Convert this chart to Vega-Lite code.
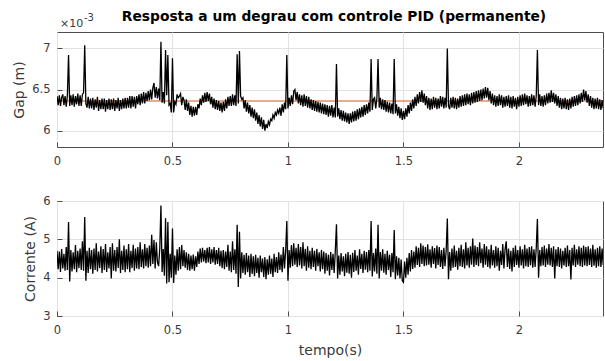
{
"$schema": "https://vega.github.io/schema/vega-lite/v6.json",
"padding": {"left": 12, "top": 9, "right": 0, "bottom": 2},
"bounds": "flush",
"spacing": 54,
"config": {
  "font": "DejaVu Sans",
  "view": {"stroke": "#4d4d4d", "strokeWidth": 1},
  "axis": {"grid": true, "gridColor": "#e2e2e2", "gridWidth": 1, "domain": false, "ticks": true, "tickSize": -5, "tickColor": "#4d4d4d", "labelFlush": false, "labelFontSize": 11.5, "labelColor": "#3a3a3a", "titleFontSize": 14, "titleFontWeight": "normal", "titleColor": "#3a3a3a"},
  "axisY": {"labelPadding": 12, "titlePadding": 5},
  "axisX": {"labelPadding": 13, "titlePadding": 8}
},
"datasets": {
"ref": [{"r": 6.36}],
"lbl": [{"a": "×10", "b": "-3"}],
"sig": [
{"t":0.000,"g":6.42,"c":4.70},{"t":0.005,"g":6.31,"c":4.22},{"t":0.010,"g":6.43,"c":4.68},{"t":0.015,"g":6.30,"c":4.15},{"t":0.020,"g":6.40,"c":4.75},{"t":0.025,"g":6.44,"c":4.24},{"t":0.030,"g":6.31,"c":4.62},{"t":0.035,"g":6.42,"c":4.18},{"t":0.040,"g":6.29,"c":4.80},{"t":0.045,"g":6.43,"c":4.20},
{"t":0.050,"g":6.92,"c":5.45},{"t":0.055,"g":6.30,"c":3.90},{"t":0.060,"g":6.43,"c":4.72},{"t":0.065,"g":6.31,"c":4.16},{"t":0.070,"g":6.44,"c":4.66},{"t":0.075,"g":6.29,"c":4.22},{"t":0.080,"g":6.42,"c":4.85},{"t":0.085,"g":6.32,"c":4.14},{"t":0.090,"g":6.45,"c":4.70},{"t":0.095,"g":6.30,"c":4.25},
{"t":0.100,"g":6.43,"c":4.76},{"t":0.105,"g":6.30,"c":4.20},{"t":0.110,"g":6.44,"c":4.95},{"t":0.115,"g":6.46,"c":4.18},{"t":0.120,"g":7.04,"c":5.58},{"t":0.125,"g":6.33,"c":3.92},{"t":0.130,"g":6.28,"c":4.70},{"t":0.135,"g":6.41,"c":4.12},{"t":0.140,"g":6.27,"c":4.78},{"t":0.145,"g":6.39,"c":4.22},
{"t":0.150,"g":6.27,"c":4.72},{"t":0.155,"g":6.40,"c":4.10},{"t":0.160,"g":6.25,"c":4.76},{"t":0.165,"g":6.38,"c":4.20},{"t":0.170,"g":6.28,"c":4.90},{"t":0.175,"g":6.41,"c":4.16},{"t":0.180,"g":6.24,"c":4.68},{"t":0.185,"g":6.37,"c":4.25},{"t":0.190,"g":6.26,"c":4.82},{"t":0.195,"g":6.39,"c":4.12},
{"t":0.200,"g":6.26,"c":4.75},{"t":0.205,"g":6.39,"c":4.20},{"t":0.210,"g":6.23,"c":4.88},{"t":0.215,"g":6.37,"c":4.15},{"t":0.220,"g":6.26,"c":4.66},{"t":0.225,"g":6.39,"c":4.24},{"t":0.230,"g":6.25,"c":4.80},{"t":0.235,"g":6.38,"c":3.98},{"t":0.240,"g":6.26,"c":4.90},{"t":0.245,"g":6.39,"c":4.18},
{"t":0.250,"g":6.24,"c":4.72},{"t":0.255,"g":6.37,"c":4.16},{"t":0.260,"g":6.27,"c":4.80},{"t":0.265,"g":6.40,"c":4.25},{"t":0.270,"g":6.24,"c":5.00},{"t":0.275,"g":6.37,"c":4.12},{"t":0.280,"g":6.26,"c":4.70},{"t":0.285,"g":6.39,"c":4.20},{"t":0.290,"g":6.27,"c":4.84},{"t":0.295,"g":6.40,"c":4.14},
{"t":0.300,"g":6.27,"c":4.74},{"t":0.305,"g":6.40,"c":4.22},{"t":0.310,"g":6.28,"c":4.88},{"t":0.315,"g":6.42,"c":4.14},{"t":0.320,"g":6.27,"c":4.70},{"t":0.325,"g":6.42,"c":4.25},{"t":0.330,"g":6.29,"c":4.86},{"t":0.335,"g":6.41,"c":4.18},{"t":0.340,"g":6.27,"c":4.76},{"t":0.345,"g":6.42,"c":4.24},
{"t":0.350,"g":6.32,"c":4.80},{"t":0.355,"g":6.44,"c":4.22},{"t":0.360,"g":6.31,"c":4.92},{"t":0.365,"g":6.45,"c":4.28},{"t":0.370,"g":6.33,"c":4.74},{"t":0.375,"g":6.47,"c":4.24},{"t":0.380,"g":6.33,"c":4.88},{"t":0.385,"g":6.46,"c":4.30},{"t":0.390,"g":6.36,"c":4.78},{"t":0.395,"g":6.48,"c":4.26},
{"t":0.400,"g":6.37,"c":4.84},{"t":0.405,"g":6.50,"c":4.30},{"t":0.410,"g":6.38,"c":5.12},{"t":0.415,"g":6.52,"c":4.36},{"t":0.420,"g":6.58,"c":4.98},{"t":0.425,"g":6.40,"c":4.24},{"t":0.430,"g":6.53,"c":4.92},{"t":0.435,"g":6.39,"c":4.40},{"t":0.440,"g":6.51,"c":4.30},{"t":0.445,"g":6.37,"c":4.76},
{"t":0.450,"g":7.08,"c":5.88},{"t":0.455,"g":6.34,"c":4.15},{"t":0.460,"g":6.47,"c":4.75},{"t":0.465,"g":6.33,"c":4.05},{"t":0.470,"g":6.98,"c":5.55},{"t":0.475,"g":6.43,"c":3.85},{"t":0.480,"g":6.92,"c":5.45},{"t":0.485,"g":6.31,"c":3.88},{"t":0.490,"g":6.33,"c":4.62},{"t":0.495,"g":6.22,"c":4.00},
{"t":0.500,"g":6.88,"c":5.28},{"t":0.505,"g":6.22,"c":3.86},{"t":0.510,"g":6.35,"c":4.58},{"t":0.515,"g":6.32,"c":4.08},{"t":0.520,"g":6.44,"c":4.74},{"t":0.525,"g":6.40,"c":4.18},{"t":0.530,"g":6.42,"c":4.80},{"t":0.535,"g":6.45,"c":4.22},{"t":0.540,"g":6.31,"c":4.85},{"t":0.545,"g":6.41,"c":4.30},
{"t":0.550,"g":6.37,"c":4.72},{"t":0.555,"g":6.25,"c":4.26},{"t":0.560,"g":6.38,"c":4.66},{"t":0.565,"g":6.24,"c":4.20},{"t":0.570,"g":6.34,"c":4.62},{"t":0.575,"g":6.19,"c":4.18},{"t":0.580,"g":6.30,"c":4.58},{"t":0.585,"g":6.17,"c":4.22},{"t":0.590,"g":6.29,"c":4.60},{"t":0.595,"g":6.18,"c":4.18},
{"t":0.600,"g":6.29,"c":4.56},{"t":0.605,"g":6.19,"c":4.28},{"t":0.610,"g":6.32,"c":4.68},{"t":0.615,"g":6.27,"c":4.36},{"t":0.620,"g":6.39,"c":4.76},{"t":0.625,"g":6.31,"c":4.40},{"t":0.630,"g":6.43,"c":4.78},{"t":0.635,"g":6.34,"c":4.42},{"t":0.640,"g":6.46,"c":4.72},{"t":0.645,"g":6.35,"c":4.38},
{"t":0.650,"g":6.47,"c":4.78},{"t":0.655,"g":6.36,"c":4.40},{"t":0.660,"g":6.45,"c":4.80},{"t":0.665,"g":6.32,"c":4.36},{"t":0.670,"g":6.41,"c":4.74},{"t":0.675,"g":6.28,"c":4.40},{"t":0.680,"g":6.39,"c":4.80},{"t":0.685,"g":6.26,"c":4.34},{"t":0.690,"g":6.37,"c":4.72},{"t":0.695,"g":6.25,"c":4.36},
{"t":0.700,"g":6.36,"c":4.78},{"t":0.705,"g":6.24,"c":4.30},{"t":0.710,"g":6.34,"c":4.70},{"t":0.715,"g":6.22,"c":4.25},{"t":0.720,"g":6.35,"c":4.72},{"t":0.725,"g":6.24,"c":4.22},{"t":0.730,"g":6.38,"c":4.68},{"t":0.735,"g":6.27,"c":4.28},{"t":0.740,"g":6.41,"c":4.86},{"t":0.745,"g":6.30,"c":4.18},
{"t":0.750,"g":6.42,"c":4.68},{"t":0.755,"g":6.30,"c":4.14},{"t":0.760,"g":6.44,"c":4.95},{"t":0.765,"g":6.31,"c":4.20},{"t":0.770,"g":6.43,"c":4.74},{"t":0.775,"g":6.30,"c":4.10},{"t":0.780,"g":6.93,"c":5.38},{"t":0.785,"g":6.33,"c":3.76},{"t":0.790,"g":6.97,"c":5.20},{"t":0.795,"g":6.42,"c":3.98},
{"t":0.800,"g":6.38,"c":4.66},{"t":0.805,"g":6.40,"c":4.12},{"t":0.810,"g":6.27,"c":4.60},{"t":0.815,"g":6.37,"c":4.08},{"t":0.820,"g":6.23,"c":4.64},{"t":0.825,"g":6.34,"c":4.14},{"t":0.830,"g":6.21,"c":4.58},{"t":0.835,"g":6.31,"c":4.02},{"t":0.840,"g":6.17,"c":4.62},{"t":0.845,"g":6.28,"c":4.10},
{"t":0.850,"g":6.15,"c":4.56},{"t":0.855,"g":6.26,"c":4.04},{"t":0.860,"g":6.12,"c":4.60},{"t":0.865,"g":6.22,"c":4.12},{"t":0.870,"g":6.08,"c":4.52},{"t":0.875,"g":6.19,"c":4.00},{"t":0.880,"g":6.05,"c":4.58},{"t":0.885,"g":6.16,"c":4.14},{"t":0.890,"g":6.02,"c":4.50},{"t":0.895,"g":6.13,"c":4.02},
{"t":0.900,"g":6.00,"c":4.54},{"t":0.905,"g":6.08,"c":3.96},{"t":0.910,"g":6.03,"c":4.48},{"t":0.915,"g":6.11,"c":4.08},{"t":0.920,"g":6.07,"c":4.58},{"t":0.925,"g":6.14,"c":4.10},{"t":0.930,"g":6.12,"c":4.50},{"t":0.935,"g":6.19,"c":4.02},{"t":0.940,"g":6.15,"c":4.62},{"t":0.945,"g":6.22,"c":4.14},
{"t":0.950,"g":6.19,"c":4.54},{"t":0.955,"g":6.25,"c":4.12},{"t":0.960,"g":6.21,"c":4.66},{"t":0.965,"g":6.28,"c":4.20},{"t":0.970,"g":6.18,"c":4.60},{"t":0.975,"g":6.32,"c":4.14},{"t":0.980,"g":6.22,"c":4.80},{"t":0.985,"g":6.34,"c":4.24},{"t":0.990,"g":6.26,"c":4.70},{"t":0.995,"g":6.92,"c":5.48},
{"t":1.000,"g":6.27,"c":3.92},{"t":1.005,"g":6.40,"c":4.72},{"t":1.010,"g":6.30,"c":4.26},{"t":1.015,"g":6.43,"c":4.85},{"t":1.020,"g":6.32,"c":4.30},{"t":1.025,"g":6.48,"c":4.90},{"t":1.030,"g":6.50,"c":4.34},{"t":1.035,"g":6.37,"c":4.78},{"t":1.040,"g":6.47,"c":4.28},{"t":1.045,"g":6.33,"c":4.88},
{"t":1.050,"g":6.44,"c":4.32},{"t":1.055,"g":6.31,"c":4.80},{"t":1.060,"g":6.43,"c":4.24},{"t":1.065,"g":6.29,"c":4.92},{"t":1.070,"g":6.44,"c":4.30},{"t":1.075,"g":6.30,"c":4.75},{"t":1.080,"g":6.42,"c":4.18},{"t":1.085,"g":6.28,"c":4.82},{"t":1.090,"g":6.41,"c":4.26},{"t":1.095,"g":6.27,"c":4.70},
{"t":1.100,"g":6.38,"c":4.22},{"t":1.105,"g":6.25,"c":4.78},{"t":1.110,"g":6.37,"c":4.28},{"t":1.115,"g":6.24,"c":4.70},{"t":1.120,"g":6.36,"c":4.18},{"t":1.125,"g":6.23,"c":4.75},{"t":1.130,"g":6.35,"c":4.30},{"t":1.135,"g":6.22,"c":4.66},{"t":1.140,"g":6.34,"c":4.16},{"t":1.145,"g":6.21,"c":4.72},
{"t":1.150,"g":6.33,"c":4.22},{"t":1.155,"g":6.20,"c":4.68},{"t":1.160,"g":6.32,"c":4.10},{"t":1.165,"g":6.19,"c":4.64},{"t":1.170,"g":6.31,"c":4.18},{"t":1.175,"g":6.17,"c":4.60},{"t":1.180,"g":6.30,"c":4.06},{"t":1.185,"g":6.18,"c":4.67},{"t":1.190,"g":6.31,"c":4.20},{"t":1.195,"g":6.16,"c":4.62},
{"t":1.200,"g":6.28,"c":4.12},{"t":1.205,"g":6.16,"c":4.70},{"t":1.210,"g":6.81,"c":5.39},{"t":1.215,"g":6.17,"c":3.98},{"t":1.220,"g":6.27,"c":4.58},{"t":1.225,"g":6.14,"c":4.08},{"t":1.230,"g":6.25,"c":4.64},{"t":1.235,"g":6.12,"c":4.16},{"t":1.240,"g":6.24,"c":4.56},{"t":1.245,"g":6.11,"c":4.04},
{"t":1.250,"g":6.22,"c":4.62},{"t":1.255,"g":6.10,"c":4.13},{"t":1.260,"g":6.21,"c":4.67},{"t":1.265,"g":6.08,"c":4.10},{"t":1.270,"g":6.21,"c":4.60},{"t":1.275,"g":6.10,"c":4.00},{"t":1.280,"g":6.23,"c":4.65},{"t":1.285,"g":6.11,"c":4.15},{"t":1.290,"g":6.24,"c":4.72},{"t":1.295,"g":6.12,"c":4.18},
{"t":1.300,"g":6.26,"c":4.58},{"t":1.305,"g":6.14,"c":4.08},{"t":1.310,"g":6.27,"c":4.74},{"t":1.315,"g":6.16,"c":4.23},{"t":1.320,"g":6.29,"c":4.62},{"t":1.325,"g":6.17,"c":4.12},{"t":1.330,"g":6.31,"c":4.70},{"t":1.335,"g":6.19,"c":4.21},{"t":1.340,"g":6.32,"c":4.67},{"t":1.345,"g":6.21,"c":4.14},
{"t":1.350,"g":6.34,"c":4.72},{"t":1.355,"g":6.23,"c":4.18},{"t":1.360,"g":6.87,"c":5.48},{"t":1.365,"g":6.25,"c":4.03},{"t":1.370,"g":6.38,"c":4.64},{"t":1.375,"g":6.40,"c":4.16},{"t":1.380,"g":6.27,"c":4.76},{"t":1.385,"g":6.39,"c":4.10},{"t":1.390,"g":6.87,"c":5.38},{"t":1.395,"g":6.28,"c":3.98},
{"t":1.400,"g":6.40,"c":4.67},{"t":1.405,"g":6.26,"c":4.18},{"t":1.410,"g":6.38,"c":4.74},{"t":1.415,"g":6.25,"c":4.13},{"t":1.420,"g":6.37,"c":4.62},{"t":1.425,"g":6.23,"c":4.08},{"t":1.430,"g":6.35,"c":4.70},{"t":1.435,"g":6.22,"c":4.20},{"t":1.440,"g":6.34,"c":4.60},{"t":1.445,"g":6.21,"c":4.02},
{"t":1.450,"g":6.33,"c":4.64},{"t":1.455,"g":6.20,"c":4.14},{"t":1.460,"g":6.87,"c":5.24},{"t":1.465,"g":6.21,"c":3.96},{"t":1.470,"g":6.32,"c":4.56},{"t":1.475,"g":6.18,"c":4.06},{"t":1.480,"g":6.29,"c":4.52},{"t":1.485,"g":6.15,"c":3.98},{"t":1.490,"g":6.27,"c":4.47},{"t":1.495,"g":6.13,"c":3.92},
{"t":1.500,"g":6.24,"c":3.88},{"t":1.505,"g":6.14,"c":4.42},{"t":1.510,"g":6.27,"c":4.00},{"t":1.515,"g":6.17,"c":4.52},{"t":1.520,"g":6.31,"c":4.08},{"t":1.525,"g":6.21,"c":4.64},{"t":1.530,"g":6.34,"c":4.16},{"t":1.535,"g":6.24,"c":4.72},{"t":1.540,"g":6.38,"c":4.23},{"t":1.545,"g":6.27,"c":4.68},
{"t":1.550,"g":6.41,"c":4.26},{"t":1.555,"g":6.30,"c":4.82},{"t":1.560,"g":6.44,"c":4.33},{"t":1.565,"g":6.33,"c":4.78},{"t":1.570,"g":6.47,"c":4.28},{"t":1.575,"g":6.35,"c":4.90},{"t":1.580,"g":6.49,"c":4.36},{"t":1.585,"g":6.34,"c":4.84},{"t":1.590,"g":6.45,"c":4.30},{"t":1.595,"g":6.31,"c":4.80},
{"t":1.600,"g":6.42,"c":4.32},{"t":1.605,"g":6.27,"c":4.87},{"t":1.610,"g":6.40,"c":4.34},{"t":1.615,"g":6.25,"c":4.74},{"t":1.620,"g":6.39,"c":4.26},{"t":1.625,"g":6.26,"c":4.82},{"t":1.630,"g":6.41,"c":4.36},{"t":1.635,"g":6.28,"c":4.77},{"t":1.640,"g":6.40,"c":4.24},{"t":1.645,"g":6.26,"c":4.84},
{"t":1.650,"g":6.39,"c":4.33},{"t":1.655,"g":6.27,"c":4.80},{"t":1.660,"g":6.42,"c":4.28},{"t":1.665,"g":6.29,"c":4.72},{"t":1.670,"g":6.41,"c":4.23},{"t":1.675,"g":6.27,"c":4.78},{"t":1.680,"g":6.40,"c":4.30},{"t":1.685,"g":6.28,"c":4.70},{"t":1.690,"g":7.00,"c":5.54},{"t":1.695,"g":6.30,"c":3.96},
{"t":1.700,"g":6.26,"c":4.67},{"t":1.705,"g":6.40,"c":4.18},{"t":1.710,"g":6.28,"c":4.76},{"t":1.715,"g":6.41,"c":4.26},{"t":1.720,"g":6.27,"c":4.84},{"t":1.725,"g":6.40,"c":4.28},{"t":1.730,"g":6.26,"c":4.70},{"t":1.735,"g":6.39,"c":4.21},{"t":1.740,"g":6.28,"c":4.78},{"t":1.745,"g":6.42,"c":4.30},
{"t":1.750,"g":6.29,"c":4.86},{"t":1.755,"g":6.43,"c":4.28},{"t":1.760,"g":6.30,"c":4.74},{"t":1.765,"g":6.44,"c":4.24},{"t":1.770,"g":6.31,"c":4.92},{"t":1.775,"g":6.45,"c":4.32},{"t":1.780,"g":6.32,"c":4.78},{"t":1.785,"g":6.44,"c":4.26},{"t":1.790,"g":6.31,"c":4.82},{"t":1.795,"g":6.46,"c":4.34},
{"t":1.800,"g":6.33,"c":5.02},{"t":1.805,"g":6.47,"c":4.28},{"t":1.810,"g":6.34,"c":4.84},{"t":1.815,"g":6.48,"c":4.33},{"t":1.820,"g":6.35,"c":4.80},{"t":1.825,"g":6.49,"c":4.30},{"t":1.830,"g":6.36,"c":4.92},{"t":1.835,"g":6.50,"c":4.38},{"t":1.840,"g":6.37,"c":4.76},{"t":1.845,"g":6.51,"c":4.26},
{"t":1.850,"g":6.39,"c":4.88},{"t":1.855,"g":6.53,"c":4.34},{"t":1.860,"g":6.40,"c":4.82},{"t":1.865,"g":6.52,"c":4.28},{"t":1.870,"g":6.37,"c":4.74},{"t":1.875,"g":6.48,"c":4.24},{"t":1.880,"g":6.33,"c":4.86},{"t":1.885,"g":6.45,"c":4.32},{"t":1.890,"g":6.31,"c":4.72},{"t":1.895,"g":6.43,"c":4.26},
{"t":1.900,"g":6.29,"c":4.82},{"t":1.905,"g":6.42,"c":4.30},{"t":1.910,"g":6.30,"c":4.78},{"t":1.915,"g":6.44,"c":4.18},{"t":1.920,"g":6.31,"c":4.70},{"t":1.925,"g":6.43,"c":4.33},{"t":1.930,"g":6.28,"c":4.88},{"t":1.935,"g":6.41,"c":4.24},{"t":1.940,"g":6.29,"c":4.74},{"t":1.945,"g":6.42,"c":4.95},
{"t":1.950,"g":6.30,"c":4.28},{"t":1.955,"g":6.43,"c":4.76},{"t":1.960,"g":6.28,"c":4.23},{"t":1.965,"g":6.41,"c":4.70},{"t":1.970,"g":6.27,"c":4.16},{"t":1.975,"g":6.42,"c":4.78},{"t":1.980,"g":6.29,"c":4.28},{"t":1.985,"g":6.40,"c":4.84},{"t":1.990,"g":6.26,"c":4.33},{"t":1.995,"g":6.41,"c":4.72},
{"t":2.000,"g":6.29,"c":4.26},{"t":2.005,"g":6.43,"c":4.82},{"t":2.010,"g":6.30,"c":4.32},{"t":2.015,"g":6.44,"c":4.74},{"t":2.020,"g":6.31,"c":4.24},{"t":2.025,"g":6.45,"c":4.86},{"t":2.030,"g":6.32,"c":4.30},{"t":2.035,"g":6.43,"c":4.76},{"t":2.040,"g":6.29,"c":4.28},{"t":2.045,"g":6.42,"c":4.80},
{"t":2.050,"g":6.30,"c":4.32},{"t":2.055,"g":6.44,"c":4.82},{"t":2.060,"g":6.31,"c":4.26},{"t":2.065,"g":6.43,"c":4.74},{"t":2.070,"g":6.29,"c":4.28},{"t":2.075,"g":6.42,"c":4.78},{"t":2.080,"g":6.98,"c":5.53},{"t":2.085,"g":6.31,"c":4.00},{"t":2.090,"g":6.44,"c":4.72},{"t":2.095,"g":6.30,"c":4.30},
{"t":2.100,"g":6.42,"c":4.80},{"t":2.105,"g":6.29,"c":4.32},{"t":2.110,"g":6.43,"c":4.84},{"t":2.115,"g":6.31,"c":4.28},{"t":2.120,"g":6.45,"c":4.76},{"t":2.125,"g":6.33,"c":4.34},{"t":2.130,"g":6.46,"c":4.88},{"t":2.135,"g":6.34,"c":4.32},{"t":2.140,"g":6.49,"c":4.78},{"t":2.145,"g":6.35,"c":4.28},
{"t":2.150,"g":6.46,"c":4.82},{"t":2.155,"g":6.33,"c":3.98},{"t":2.160,"g":6.44,"c":4.74},{"t":2.165,"g":6.30,"c":4.30},{"t":2.170,"g":6.42,"c":4.80},{"t":2.175,"g":6.28,"c":4.28},{"t":2.180,"g":6.40,"c":4.76},{"t":2.185,"g":6.26,"c":4.24},{"t":2.190,"g":6.39,"c":4.70},{"t":2.195,"g":6.27,"c":4.32},
{"t":2.200,"g":6.40,"c":4.78},{"t":2.205,"g":6.26,"c":4.28},{"t":2.210,"g":6.38,"c":4.84},{"t":2.215,"g":6.25,"c":4.30},{"t":2.220,"g":6.39,"c":4.72},{"t":2.225,"g":6.27,"c":3.95},{"t":2.230,"g":6.41,"c":4.78},{"t":2.235,"g":6.29,"c":4.32},{"t":2.240,"g":6.42,"c":4.86},{"t":2.245,"g":6.30,"c":4.28},
{"t":2.250,"g":6.43,"c":4.74},{"t":2.255,"g":6.31,"c":4.34},{"t":2.260,"g":6.44,"c":4.82},{"t":2.265,"g":6.33,"c":4.30},{"t":2.270,"g":6.46,"c":4.78},{"t":2.275,"g":6.35,"c":4.28},{"t":2.280,"g":6.50,"c":4.84},{"t":2.285,"g":6.37,"c":4.32},{"t":2.290,"g":6.48,"c":4.80},{"t":2.295,"g":6.34,"c":4.30},
{"t":2.300,"g":6.44,"c":4.82},{"t":2.305,"g":6.30,"c":4.33},{"t":2.310,"g":6.42,"c":4.76},{"t":2.315,"g":6.28,"c":4.28},{"t":2.320,"g":6.40,"c":4.86},{"t":2.325,"g":6.26,"c":4.31},{"t":2.330,"g":6.39,"c":4.74},{"t":2.335,"g":6.27,"c":4.26},{"t":2.340,"g":6.40,"c":4.78},{"t":2.345,"g":6.26,"c":4.30},
{"t":2.350,"g":6.38,"c":4.82},{"t":2.355,"g":6.25,"c":4.28},{"t":2.360,"g":6.37,"c":4.76},{"t":2.365,"g":6.27,"c":4.33}
]
},
"vconcat": [
  {
    "width": 546, "height": 115,
    "title": {"text": "Resposta a um degrau com controle PID (permanente)", "font": "DejaVu Sans", "fontSize": 13.8, "fontWeight": "bold", "color": "#000000", "anchor": "middle", "frame": "group", "offset": -11, "dx": 4},
    "layer": [
      {"data": {"name": "ref"}, "mark": {"type": "rule", "color": "#D95319", "strokeWidth": 1},
       "encoding": {"y": {"field": "r", "type": "quantitative", "scale": {"domain": [5.8, 7.2], "nice": false, "zero": false}, "axis": {"values": [6, 6.5, 7], "format": "~g", "title": "Gap (m)"}}}},
      {"data": {"name": "sig"}, "mark": {"type": "line", "color": "#000000", "strokeWidth": 1.3, "clip": true},
       "encoding": {
         "x": {"field": "t", "type": "quantitative", "scale": {"domain": [0, 2.364], "nice": false, "zero": false}, "axis": {"values": [0, 0.5, 1, 1.5, 2], "format": "~g", "title": null}},
         "y": {"field": "g", "type": "quantitative", "scale": {"domain": [5.8, 7.2], "nice": false, "zero": false}, "axis": {"values": [6, 6.5, 7], "format": "~g", "title": "Gap (m)"}}}},
      {"data": {"name": "lbl"}, "mark": {"type": "text", "align": "left", "baseline": "alphabetic", "dx": 3, "dy": -5, "fontSize": 11, "color": "#3a3a3a"},
       "encoding": {"x": {"datum": 0}, "y": {"datum": 7.2}, "text": {"field": "a"}}},
      {"data": {"name": "lbl"}, "mark": {"type": "text", "align": "left", "baseline": "alphabetic", "dx": 27, "dy": -11, "fontSize": 10, "color": "#3a3a3a"},
       "encoding": {"x": {"datum": 0}, "y": {"datum": 7.2}, "text": {"field": "b"}}}
    ]
  },
  {
    "width": 546, "height": 115,
    "layer": [
      {"data": {"name": "sig"}, "mark": {"type": "line", "color": "#000000", "strokeWidth": 1.3, "clip": true},
       "encoding": {
         "x": {"field": "t", "type": "quantitative", "scale": {"domain": [0, 2.364], "nice": false, "zero": false}, "axis": {"values": [0, 0.5, 1, 1.5, 2], "format": "~g", "title": "tempo(s)"}},
         "y": {"field": "c", "type": "quantitative", "scale": {"domain": [3, 6], "nice": false, "zero": false}, "axis": {"values": [3, 4, 5, 6], "format": "~g", "title": "Corrente (A)"}}}}
    ]
  }
]
}
